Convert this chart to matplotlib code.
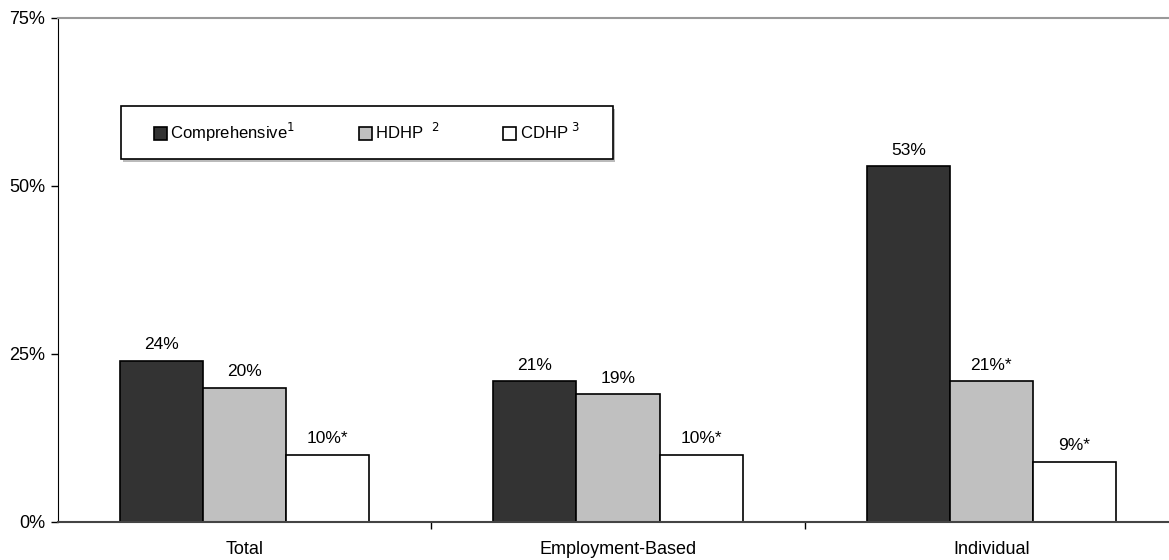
import numpy as np
import matplotlib.pyplot as plt
from matplotlib.patches import Rectangle

plt.rcParams['font.family'] = ['Liberation Sans', 'DejaVu Sans']

categories = ['Total', 'Employment-Based', 'Individual']
series = ['Comprehensive$^1$', 'HDHP  $^2$', 'CDHP $^3$']
comprehensive = [24, 21, 53]
hdhp = [20, 19, 21]
cdhp = [10, 10, 9]
bar_labels = [['24%', '21%', '53%'],
              ['20%', '19%', '21%*'],
              ['10%*', '10%*', '9%*']]
yticks = [0, 25, 50, 75]

colors = ['#333333', '#c0c0c0', '#ffffff']

fig = plt.figure(figsize=(11.69, 5.6), dpi=100)
ax = fig.add_axes([58 / 1169, 38 / 560, 1120 / 1169, 504 / 560])

x = np.arange(len(categories))
w = 0.2225
for i, (vals, col, name) in enumerate(zip([comprehensive, hdhp, cdhp], colors, series)):
    bars = ax.bar(x + (i - 1) * w, vals, w, color=col, edgecolor='black',
                  linewidth=1.2, label=name)
    for b, lab in zip(bars, bar_labels[i]):
        ax.annotate(lab, (b.get_x() + b.get_width() / 2, b.get_height()),
                    xytext=(0, 6), textcoords='offset points',
                    ha='center', va='bottom', fontsize=12.5)

ax.set_xlim(-0.5, 2.5)
ax.set_ylim(0, 75)
ax.set_yticks(yticks)
ax.set_yticklabels([f'{t}%' for t in yticks], fontsize=13)
ax.set_xticks(x)
ax.set_xticklabels(categories, fontsize=13)
ax.set_xticks([0.5, 1.5], minor=True)
ax.tick_params(axis='x', which='major', length=0, pad=14)
ax.tick_params(axis='x', which='minor', length=5, width=1, direction='out')
ax.tick_params(axis='y', length=5, width=1, direction='out', pad=4)

ax.spines['right'].set_visible(False)
ax.spines['top'].set_color('#999999')
ax.spines['top'].set_linewidth(1.5)
ax.spines['left'].set_color('black')
ax.spines['bottom'].set_color('#444444')
ax.spines['bottom'].set_linewidth(1.5)

# legend box drawn separately so the inner spacing can match
box = (0.0563, 0.720, 0.4392, 0.105)
ax.add_patch(Rectangle((box[0] + 0.002, box[1] - 0.005), box[2], box[3],
                       transform=ax.transAxes, facecolor='#bbbbbb',
                       edgecolor='none', zorder=4))
ax.add_patch(Rectangle(box[:2], box[2], box[3], transform=ax.transAxes,
                       facecolor='white', edgecolor='black', linewidth=1.2,
                       zorder=5))
leg = ax.legend(ncol=3, loc='center',
                bbox_to_anchor=(box[0] + box[2] / 2, box[1] + box[3] / 2),
                fontsize=12, frameon=False,
                handlelength=0.78, handleheight=0.78, handletextpad=0.2,
                columnspacing=3.8)
leg.set_zorder(6)

fig.savefig('out.png', dpi=100)
